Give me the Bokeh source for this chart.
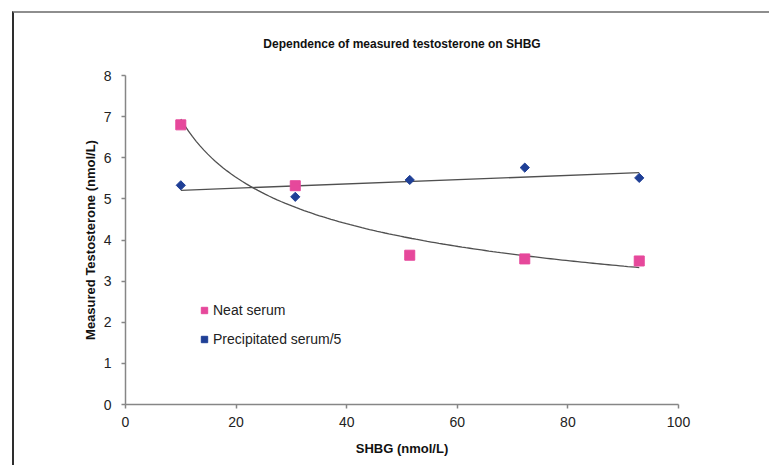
import numpy as np
from bokeh.plotting import figure
from bokeh.models import Legend, LegendItem, Range1d, FixedTicker
from bokeh.embed import file_html
from bokeh.resources import INLINE

# Data
shbg_neat = [10.0, 30.7, 51.4, 72.2, 92.9]
neat_serum = [6.80, 5.32, 3.63, 3.54, 3.49]
shbg_prec = [10.0, 30.7, 51.4, 72.2, 92.9]
precipitated_serum_5 = [5.33, 5.05, 5.46, 5.76, 5.51]
x_ticks = [0, 20, 40, 60, 80, 100]
y_ticks = [0, 1, 2, 3, 4, 5, 6, 7, 8]

title_text = "Dependence of measured testosterone on SHBG"
x_label = "SHBG (nmol/L)"
y_label = "Measured Testosterone (nmol/L)"

FONT = "Liberation Sans"
PINK = "#e6489b"
BLUE = "#1f3f96"
AXIS = "#868686"

p = figure(width=757, height=454, output_backend="svg", toolbar_location=None,
           x_range=Range1d(0, 100), y_range=Range1d(0, 8),
           min_border_left=111, min_border_right=93, min_border_top=62, min_border_bottom=63)
p.margin = (11, 0, 0, 12)
p.styles = {"border-top": "2px solid #8e8e8e", "border-left": "2px solid #2e2e2e"}

p.title.text = title_text
p.title.align = "center"
p.title.vertical_align = "top"
p.title.text_font = FONT
p.title.text_font_size = "12px"
p.title.text_font_style = "bold"
p.title.text_color = "#111111"
p.title.standoff = 46

p.outline_line_color = None
p.grid.visible = False
p.background_fill_color = "white"
p.border_fill_color = "white"

for ax in (p.xaxis[0], p.yaxis[0]):
    ax.axis_line_color = AXIS
    ax.axis_line_width = 1.5
    ax.major_tick_line_color = AXIS
    ax.major_tick_line_width = 1.5
    ax.major_tick_out = 4
    ax.major_tick_in = 0
    ax.minor_tick_line_color = None
    ax.major_label_text_font = FONT
    ax.major_label_text_font_size = "14px"
    ax.major_label_text_color = "#222222"
    ax.axis_label_text_font = FONT
    ax.axis_label_text_font_size = "13px"
    ax.axis_label_text_font_style = "bold"
    ax.axis_label_text_color = "#111111"

p.xaxis.ticker = FixedTicker(ticks=x_ticks)
p.yaxis.ticker = FixedTicker(ticks=y_ticks)
p.xaxis.axis_label = x_label
p.yaxis.axis_label = y_label
p.xaxis.major_label_standoff = 8
p.yaxis.major_label_standoff = 10
p.xaxis.axis_label_standoff = 11
p.yaxis.axis_label_standoff = 3

# Trendlines fitted from the data (as in the original spreadsheet chart)
xn = np.array(shbg_neat)
yn = np.array(neat_serum)
b, ln_a = np.polyfit(np.log(xn), np.log(yn), 1)
xs_n = np.linspace(xn.min(), xn.max(), 120)
p.line(xs_n, np.exp(ln_a) * xs_n ** b, line_color="#505050", line_width=1.3)

xp = np.array(shbg_prec)
yp = np.array(precipitated_serum_5)
m, c = np.polyfit(xp, yp, 1)
xs_p = np.array([xp.min(), xp.max()])
p.line(xs_p, m * xs_p + c, line_color="#505050", line_width=1.3)

r_neat = p.scatter(shbg_neat, neat_serum, marker="square", size=10,
                   fill_color=PINK, line_color=PINK)
r_prec = p.scatter(shbg_prec, precipitated_serum_5, marker="square", size=6.5,
                   angle=np.pi / 4, fill_color=BLUE, line_color=BLUE)

legend = Legend(items=[LegendItem(label="Neat serum", renderers=[r_neat]),
                       LegendItem(label="Precipitated serum/5", renderers=[r_prec])],
                location=(71, 54))
legend.border_line_color = None
legend.background_fill_alpha = 0
legend.padding = 0
legend.margin = 0
legend.spacing = 7
legend.glyph_width = 16
legend.glyph_height = 16
legend.label_height = 22
legend.label_standoff = 1
legend.label_text_font = FONT
legend.label_text_font_size = "14px"
legend.label_text_color = "#222222"
p.add_layout(legend)

open("out.html", "w").write(file_html(p, INLINE))
